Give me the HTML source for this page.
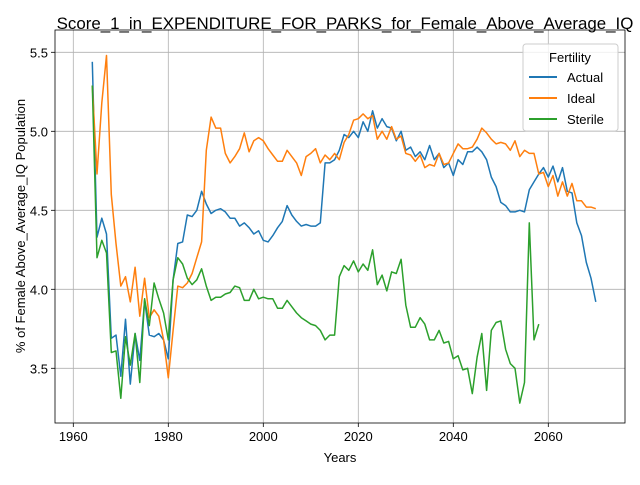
<!DOCTYPE html>
<html><head><meta charset="utf-8"><style>
body{margin:0;background:#fff;}
svg{font-family:"Liberation Sans",sans-serif;}
</style></head><body>
<svg id="chart" width="640" height="480">
<rect x="0" y="0" width="640" height="480" fill="#fff"/>
<text x="345" y="29" font-size="16.9" text-anchor="middle">Score_1_in_EXPENDITURE_FOR_PARKS_for_Female_Above_Average_IQ</text>
<g id="grid"></g><g id="axes"></g><g id="series"></g>
<text x="340" y="462" font-size="13" text-anchor="middle">Years</text>
<text transform="translate(25,226) rotate(-90)" font-size="13" text-anchor="middle">% of Female Above_Average_IQ Population</text>
<g>
<rect x="523" y="44" width="95" height="87" rx="3" fill="#fff" fill-opacity="0.8" stroke="#ccc"/>
<text x="570" y="62" font-size="13" text-anchor="middle">Fertility</text>
<line x1="529" y1="77" x2="557" y2="77" stroke="#1f77b4" stroke-width="2"/>
<text x="567" y="82" font-size="13">Actual</text>
<line x1="529" y1="98" x2="557" y2="98" stroke="#ff7f0e" stroke-width="2"/>
<text x="567" y="103" font-size="13">Ideal</text>
<line x1="529" y1="119" x2="557" y2="119" stroke="#2ca02c" stroke-width="2"/>
<text x="567" y="124" font-size="13">Sterile</text>
</g>
</svg>
<script>
const actualStart = 1964;
const actualValues = [5.44,4.33,4.45,4.35,3.69,3.71,3.45,3.81,3.40,3.72,3.55,3.93,3.71,3.70,3.72,3.68,3.56,4.06,4.29,4.30,4.47,4.46,4.50,4.62,4.54,4.48,4.50,4.51,4.49,4.45,4.45,4.40,4.42,4.39,4.35,4.37,4.31,4.30,4.34,4.39,4.43,4.53,4.47,4.43,4.40,4.41,4.40,4.40,4.42,4.80,4.80,4.82,4.88,4.98,4.96,5.00,4.96,5.06,5.00,5.13,5.02,5.08,5.03,5.02,4.94,5.00,4.88,4.90,4.84,4.87,4.82,4.91,4.82,4.86,4.77,4.80,4.72,4.82,4.79,4.87,4.87,4.90,4.87,4.82,4.71,4.65,4.55,4.53,4.49,4.49,4.50,4.49,4.63,4.68,4.73,4.77,4.71,4.78,4.68,4.77,4.62,4.61,4.42,4.34,4.17,4.07,3.92];
const idealStart = 1964;
const idealValues = [5.29,4.73,5.18,5.48,4.60,4.29,4.02,4.08,3.92,4.14,3.83,4.07,3.82,3.87,3.83,3.68,3.44,3.74,4.02,4.01,4.04,4.10,4.20,4.30,4.88,5.09,5.02,5.02,4.86,4.80,4.84,4.89,4.99,4.87,4.94,4.96,4.94,4.89,4.85,4.81,4.81,4.88,4.84,4.80,4.72,4.84,4.86,4.89,4.80,4.85,4.82,4.86,4.82,4.93,4.98,5.07,5.08,5.11,5.08,5.10,4.95,5.00,4.95,5.03,4.95,4.97,4.86,4.85,4.81,4.85,4.77,4.79,4.78,4.86,4.79,4.80,4.86,4.92,4.89,4.89,4.90,4.95,5.02,4.99,4.95,4.92,4.93,4.92,4.88,4.94,4.84,4.88,4.86,4.86,4.73,4.74,4.65,4.72,4.59,4.68,4.59,4.67,4.56,4.56,4.52,4.52,4.51];
const sterileStart = 1964;
const sterileValues = [5.29,4.20,4.31,4.23,3.60,3.61,3.31,3.70,3.52,3.72,3.41,3.94,3.77,4.04,3.94,3.85,3.68,4.06,4.20,4.16,4.07,4.03,4.06,4.13,4.02,3.93,3.95,3.95,3.97,3.98,4.02,4.01,3.93,3.93,4.00,3.94,3.95,3.94,3.94,3.88,3.88,3.93,3.89,3.85,3.82,3.80,3.78,3.77,3.74,3.68,3.71,3.71,4.08,4.15,4.12,4.18,4.11,4.16,4.12,4.25,4.03,4.09,3.99,4.11,4.10,4.19,3.90,3.76,3.76,3.82,3.78,3.68,3.68,3.74,3.66,3.67,3.56,3.58,3.49,3.50,3.34,3.57,3.72,3.36,3.74,3.79,3.80,3.62,3.53,3.50,3.28,3.41,4.42,3.68,3.78];
const xTicks = [1960,1980,2000,2020,2040,2060];
const yTicks = [3.5,4.0,4.5,5.0,5.5];

const NS="http://www.w3.org/2000/svg";
const L=55,R=625,T=30,B=423;
function xs(yr){return 73.3+(yr-1960)*4.75;}
function ys(v){return 368.3-(v-3.5)*158;}
const grid=document.getElementById('grid'),axes=document.getElementById('axes'),ser=document.getElementById('series');
function mk(tag,attrs,parent){const e=document.createElementNS(NS,tag);for(const k in attrs)e.setAttribute(k,attrs[k]);parent.appendChild(e);return e;}
xTicks.forEach(t=>{const x=xs(t);
 const g=mk('line',{x1:x,x2:x,y1:T,y2:B,stroke:'#b0b0b0','stroke-width':0.8},grid);
 
 
 mk('line',{x1:x,x2:x,y1:B,y2:B+4,stroke:'#000','stroke-width':0.8},axes);
 const tx=mk('text',{x:x,y:B+18,'font-size':13,'text-anchor':'middle'},axes);tx.textContent=t;
 
 
});
yTicks.forEach(t=>{const y=ys(t);
 const g=mk('line',{x1:L,x2:R,y1:y,y2:y,stroke:'#b0b0b0','stroke-width':0.8},grid);
 
 
 mk('line',{x1:L-4,x2:L,y1:y,y2:y,stroke:'#000','stroke-width':0.8},axes);
 const tx=mk('text',{x:L-7,y:y+5,'font-size':13,'text-anchor':'end'},axes);tx.textContent=t.toFixed(1);
 
 
});
const fr=mk('rect',{x:L,y:T,width:R-L,height:B-T,fill:'none',stroke:'#000','stroke-width':0.8},axes);


function line(start,vals,color,name){
 const pts=vals.map((v,i)=>xs(start+i).toFixed(1)+','+ys(v).toFixed(1)).join(' ');
 const p=mk('polyline',{points:pts,fill:'none',stroke:color,'stroke-width':1.5,'stroke-linejoin':'round'},ser);
 
 
}
line(actualStart,actualValues,'#1f77b4','actual-line');
line(idealStart,idealValues,'#ff7f0e','ideal-line');
line(sterileStart,sterileValues,'#2ca02c','sterile-line');
</script>
</body></html>
